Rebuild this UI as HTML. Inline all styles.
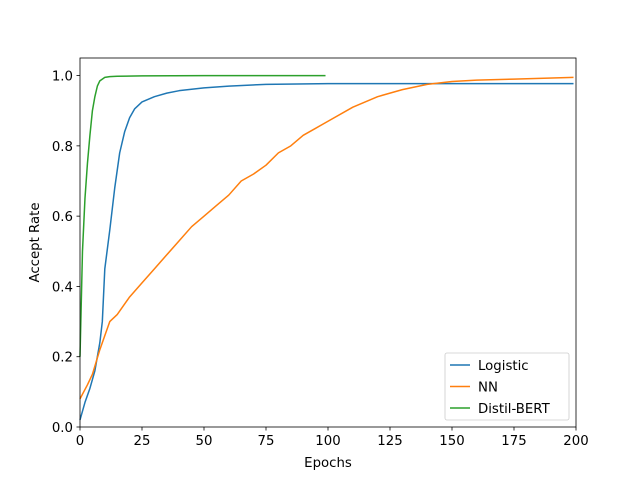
<!DOCTYPE html>
<html><head><meta charset="utf-8"><style>
body{margin:0;background:#fff}
svg text{font-family:"DejaVu Sans","Liberation Sans",sans-serif;font-size:13.3px;fill:#000}
</style></head><body>
<svg id="c" width="640" height="480" viewBox="0 0 640 480">
<rect width="640" height="480" fill="#fff"/>
<g id="plot"></g>
</svg>
<script>
const xTicks=[0,25,50,75,100,125,150,175,200];
const yTicks=[0.0,0.2,0.4,0.6,0.8,1.0];
const logEpochs=[0,2,4,6,8,9,10,12,14,16,18,20,22,25,30,35,40,50,60,75,100,125,150,175,199];
const logVals=[0.02,0.07,0.11,0.16,0.24,0.3,0.45,0.56,0.68,0.78,0.84,0.88,0.905,0.925,0.94,0.95,0.957,0.965,0.97,0.975,0.977,0.977,0.977,0.977,0.977];
const nnEpochs=[0,3,5,8,10,12,15,20,25,30,35,40,45,50,55,60,65,70,75,80,85,90,95,100,110,120,125,130,140,150,160,175,199];
const nnVals=[0.08,0.12,0.15,0.22,0.26,0.3,0.32,0.37,0.41,0.45,0.49,0.53,0.57,0.6,0.63,0.66,0.7,0.72,0.745,0.78,0.8,0.83,0.85,0.87,0.91,0.94,0.95,0.96,0.975,0.983,0.987,0.99,0.995];
const bertEpochs=[0,1,2,3,4,5,6,7,8,10,12,15,25,50,75,99];
const bertVals=[0.2,0.5,0.65,0.75,0.83,0.9,0.94,0.97,0.985,0.995,0.997,0.998,0.999,1.0,1.0,1.0];
const L=80,R=576,T=58,B=427;
const X=v=>L+(v-0)/(200-0)*(R-L);
const Y=v=>B-(v-0)/(1.05-0)*(B-T);
const ns="http://www.w3.org/2000/svg";
const g=document.getElementById('plot');
function mk(t,a,p){const e=document.createElementNS(ns,t);for(const k in a)e.setAttribute(k,a[k]);(p||g).appendChild(e);return e;}
function series(ep,vals,color,name){
  const d=ep.map((e,i)=>(i?'L':'M')+X(e).toFixed(2)+','+Y(vals[i]).toFixed(2)).join('');
  const p=mk('path',{d:d,fill:'none',stroke:color,'stroke-width':1.5,'stroke-linejoin':'round'});
  
  
}
series(logEpochs,logVals,'#1f77b4','logistic-line');
series(nnEpochs,nnVals,'#ff7f0e','nn-line');
series(bertEpochs,bertVals,'#2ca02c','distil-bert-line');
const fr=mk('rect',{x:L,y:T,width:R-L,height:B-T,fill:'none',stroke:'#000','stroke-width':0.8});


xTicks.forEach(v=>{
  mk('line',{x1:X(v),x2:X(v),y1:B,y2:B+3.5,stroke:'#000','stroke-width':0.8});
  const t=mk('text',{x:X(v),y:B+18,'text-anchor':'middle'});t.textContent=v;
  
  
});
yTicks.forEach(v=>{
  mk('line',{x1:L-3.5,x2:L,y1:Y(v),y2:Y(v),stroke:'#000','stroke-width':0.8});
  const t=mk('text',{x:L-7,y:Y(v)+5,'text-anchor':'end'});t.textContent=v.toFixed(1);
  
  
});
const xt=mk('text',{x:(L+R)/2,y:467,'text-anchor':'middle'});xt.textContent='Epochs';


const yt=mk('text',{x:0,y:0,'text-anchor':'middle',transform:`translate(39,${(T+B)/2}) rotate(-90)`});yt.textContent='Accept Rate';


const lg=mk('g',{});


mk('rect',{x:445,y:353,width:124,height:67,rx:2,fill:'#fff','fill-opacity':0.8,stroke:'#ccc','stroke-width':0.8},lg);
[['Logistic','#1f77b4'],['NN','#ff7f0e'],['Distil-BERT','#2ca02c']].forEach((s,i)=>{
  const y=365+i*21.5;
  const en=mk('g',{},lg);
  
  
  mk('line',{x1:450,x2:470,y1:y,y2:y,stroke:s[1],'stroke-width':1.5},en);
  const t=mk('text',{x:478,y:y+5},en);t.textContent=s[0];
});
</script>
</body></html>
